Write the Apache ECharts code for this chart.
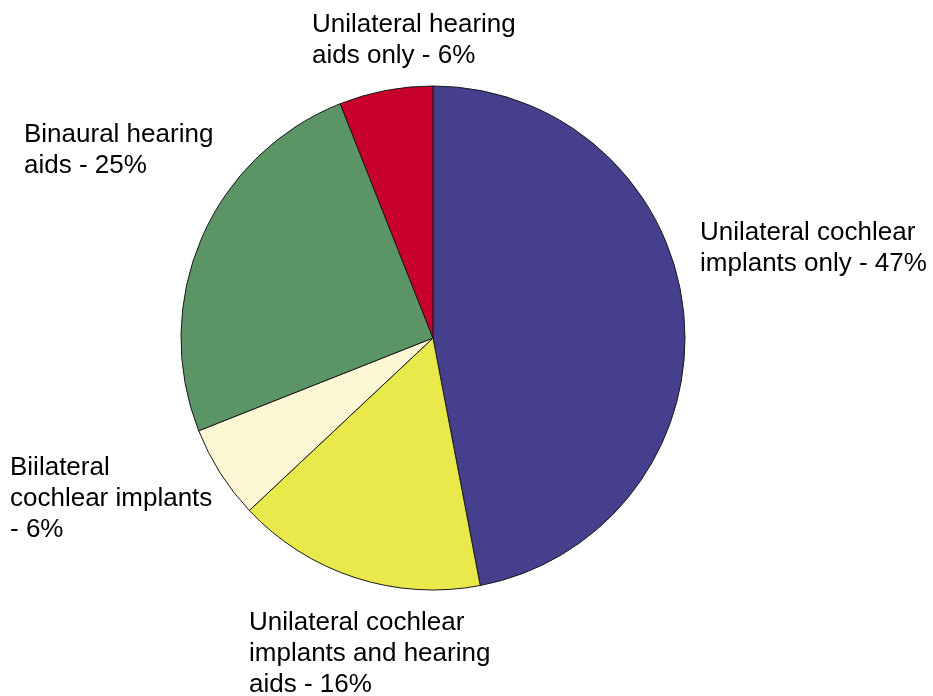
<!DOCTYPE html>
<html>
<head>
<meta charset="utf-8">
<script src="https://cdn.jsdelivr.net/npm/echarts@6/dist/echarts.min.js"></script>
<style>html,body{margin:0;padding:0;background:#fff}#c{width:933px;height:696px}</style>
</head>
<body>
<div id="c"></div>
<script>
// Data
var categories = [
  'Unilateral cochlear implants only',
  'Unilateral cochlear implants and hearing aids',
  'Biilateral cochlear implants',
  'Binaural hearing aids',
  'Unilateral hearing aids only'
];
var values = [47, 16, 6, 25, 6];
var labelLines = [
  ['Unilateral cochlear', 'implants only - 47%'],
  ['Unilateral cochlear', 'implants and hearing', 'aids - 16%'],
  ['Biilateral', 'cochlear implants', '- 6%'],
  ['Binaural hearing', 'aids - 25%'],
  ['Unilateral hearing', 'aids only - 6%']
];
var colors = ['#453F8E', '#E9E94B', '#FBF7D5', '#5B9566', '#C8002C'];
var labelPos = [[700, 217], [249, 607], [10, 452], [24, 119], [312, 9]];

var chart = echarts.init(document.getElementById('c'), null, {renderer: 'canvas'});
chart.setOption({
  animation: false,
  backgroundColor: '#fff',
  series: [{
    type: 'pie',
    center: [433, 338],
    radius: 252,
    startAngle: 90,
    clockwise: true,
    data: categories.map(function (n, i) {
      return {name: n, value: values[i], itemStyle: {color: colors[i]}};
    }),
    itemStyle: {borderColor: '#1a1a1a', borderWidth: 1},
    emphasis: {disabled: true},
    label: {
      show: true,
      color: '#000',
      fontFamily: 'Liberation Sans, Arial, sans-serif',
      fontSize: 26,
      lineHeight: 31,
      align: 'left',
      overflow: 'none',
      width: 400,
      formatter: function (p) { return labelLines[p.dataIndex].join('\n'); }
    },
    labelLine: {show: false},
    labelLayout: function (p) {
      var pos = labelPos[p.dataIndex];
      return {x: pos[0], y: pos[1], align: 'left', verticalAlign: 'top'};
    }
  }]
});
</script>
</body>
</html>
